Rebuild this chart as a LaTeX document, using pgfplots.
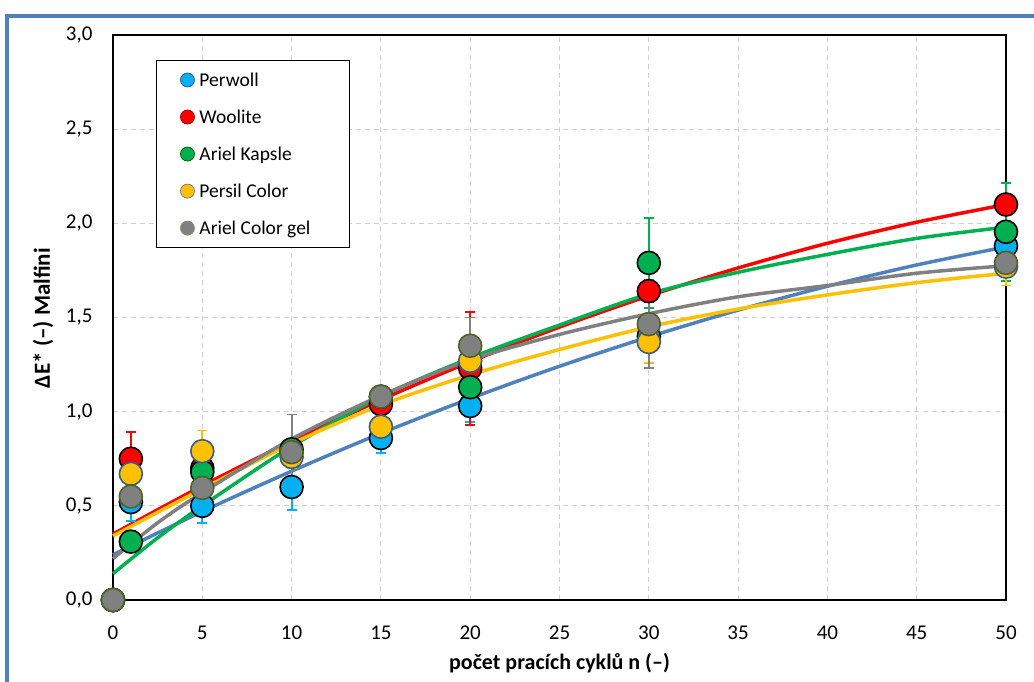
\documentclass[border=0pt]{standalone}
\usepackage{fontspec}
\setmainfont{Carlito}
\usepackage{pgfplots}
\pgfplotsset{compat=1.18}
\usepackage{pgfplotstable}

\definecolor{cBlue}{HTML}{00B0F0}
\definecolor{cRed}{HTML}{FF0000}
\definecolor{cGreen}{HTML}{00B050}
\definecolor{cYellow}{HTML}{FFC000}
\definecolor{cGray}{HTML}{808080}
\definecolor{lBlue}{HTML}{4F81BD}
\definecolor{frameBlue}{HTML}{4F81BD}
\definecolor{gridc}{HTML}{CFCFCF}
\definecolor{olive}{HTML}{4F6228}
\definecolor{darkbl}{HTML}{385D8A}

\pgfplotstableread{
x y e
0 0 0
1 0.52 0.10
5 0.50 0.09
10 0.60 0.12
15 0.86 0.08
20 1.03 0.085
30 1.40 0.05
50 1.88 0.05
}\perwoll
\pgfplotstableread{
x y e
0 0 0
1 0.75 0.14
5 0.70 0.08
10 0.79 0.05
15 1.04 0.06
20 1.23 0.30
30 1.64 0.06
50 2.10 0.05
}\woolite
\pgfplotstableread{
x y e
0 0 0
1 0.31 0.04
5 0.68 0.05
10 0.80 0.05
15 1.08 0.05
20 1.13 0.10
30 1.79 0.24
50 1.955 0.26
}\kapsle
\pgfplotstableread{
x y e
0 0 0
1 0.67 0.06
5 0.79 0.11
10 0.76 0.06
15 0.92 0.06
20 1.27 0.08
30 1.37 0.11
50 1.77 0.10
}\persil
\pgfplotstableread{
x y e
0 0 0
1 0.55 0.05
5 0.595 0.05
10 0.785 0.20
15 1.08 0.05
20 1.35 0.15
30 1.465 0.235
50 1.79 0.05
}\colorgel

\begin{document}
\begin{tikzpicture}
\begin{axis}[
  scale only axis,
  width=893pt, height=565pt,
  xmin=0, xmax=50, ymin=0, ymax=3,
  xtick={0,5,...,50}, ytick={0,0.5,...,3},
  clip=false,
  axis line style={black, line width=2.6pt},
  major tick length=0pt,
  grid=major,
  major grid style={gridc, line width=0.9pt, dash pattern=on 5pt off 4pt},
  tick label style={font=\fontsize{21}{25}\selectfont},
  xticklabel style={yshift=-22pt},
  yticklabel style={xshift=-17pt},
  /pgf/number format/.cd, use comma, fixed, fixed zerofill, precision=1, assume math mode=true,
  /pgfplots/.cd,
  xticklabel={\pgfmathprintnumber[fixed, precision=0, fixed zerofill=false]{\tick}},
  every axis x label/.style={at={(axis description cs:0.5,-0.1115)}, anchor=center},
  every axis y label/.style={at={(axis description cs:-0.0784,0.499)}, anchor=center, rotate=90},
  xlabel={\fontsize{22}{26}\selectfont\bfseries počet pracích cyklů n (–)},
  ylabel={\fontsize{23}{27}\selectfont\bfseries ΔE* (–) Malfini},
  legend style={at={(axis description cs:0.048,0.956)}, anchor=north west,
    draw=black, line width=1.2pt, font=\fontsize{19.5}{23}\selectfont,
    row sep=18pt, inner xsep=24pt, inner ysep=10pt,
    /tikz/every odd column/.append style={column sep=3pt}},
  legend cell align=left,
]
% trend lines
\addplot[lBlue, line width=3.5pt, smooth, forget plot] coordinates {(0,0.24) (5,0.470) (10,0.684) (15,0.885) (20,1.07) (25,1.241) (30,1.397) (35,1.539) (40,1.666) (45,1.779) (50,1.875)};
\addplot[cRed, line width=3.5pt, smooth, forget plot] coordinates {(0,0.35) (5,0.606) (10,0.843) (15,1.063) (20,1.265) (25,1.449) (30,1.615) (35,1.763) (40,1.894) (45,2.006) (50,2.10)};
\addplot[cGreen, line width=3.5pt, smooth, forget plot] coordinates {(0,0.14) (2.5,0.33) (5,0.50) (10,0.815) (15,1.08) (20,1.285) (25,1.46) (30,1.625) (35,1.74) (40,1.835) (45,1.92) (50,1.98)};
\addplot[cYellow, line width=3.5pt, smooth, forget plot] coordinates {(0,0.34) (5,0.59) (10,0.83) (15,1.035) (20,1.195) (25,1.33) (30,1.45) (35,1.545) (40,1.62) (45,1.685) (50,1.735)};
\addplot[cGray, line width=3.5pt, smooth, forget plot] coordinates {(0,0.22) (2.5,0.41) (5,0.57) (10,0.855) (15,1.085) (20,1.275) (25,1.41) (30,1.52) (35,1.61) (40,1.67) (45,1.735) (50,1.775)};
% error bars
\addplot[draw=none, forget plot, error bars/.cd, y dir=both, y explicit, error bar style={cBlue, line width=1.8pt}, error mark options={rotate=90, cBlue, line width=1.8pt, mark size=5pt}] table[x=x, y=y, y error=e]{\perwoll};
\addplot[draw=none, forget plot, error bars/.cd, y dir=both, y explicit, error bar style={cRed, line width=1.8pt}, error mark options={rotate=90, cRed, line width=1.8pt, mark size=5pt}] table[x=x, y=y, y error=e]{\woolite};
\addplot[draw=none, forget plot, error bars/.cd, y dir=both, y explicit, error bar style={cGreen, line width=1.8pt}, error mark options={rotate=90, cGreen, line width=1.8pt, mark size=5pt}] table[x=x, y=y, y error=e]{\kapsle};
\addplot[draw=none, forget plot, error bars/.cd, y dir=both, y explicit, error bar style={cYellow, line width=1.8pt}, error mark options={rotate=90, cYellow, line width=1.8pt, mark size=5pt}] table[x=x, y=y, y error=e]{\persil};
\addplot[draw=none, forget plot, error bars/.cd, y dir=both, y explicit, error bar style={cGray, line width=1.8pt}, error mark options={rotate=90, cGray, line width=1.8pt, mark size=5pt}] table[x=x, y=y, y error=e]{\colorgel};
% markers
\addplot[only marks, mark=*, mark size=11.5pt, mark options={fill=cBlue, draw=black, line width=1.6pt}, forget plot] table[x=x, y=y]{\perwoll};
\addplot[only marks, mark=*, mark size=11.5pt, mark options={fill=cRed, draw=black, line width=1.6pt}, forget plot] table[x=x, y=y]{\woolite};
\addplot[only marks, mark=*, mark size=11.5pt, mark options={fill=cGreen, draw=black, line width=1.6pt}, forget plot] table[x=x, y=y]{\kapsle};
\addplot[only marks, mark=*, mark size=11.5pt, mark options={fill=cYellow, draw=darkbl, line width=1.6pt}, forget plot] table[x=x, y=y]{\persil};
\addplot[only marks, mark=*, mark size=11.5pt, mark options={fill=cGray, draw=olive, line width=1.6pt}, forget plot] table[x=x, y=y]{\colorgel};
% legend
\addlegendimage{only marks, mark=*, mark size=7pt, mark options={fill=cBlue, draw=darkbl, line width=0.8pt}}
\addlegendentry{Perwoll}
\addlegendimage{only marks, mark=*, mark size=7pt, mark options={fill=cRed, draw=red!60!black, line width=0.8pt}}
\addlegendentry{Woolite}
\addlegendimage{only marks, mark=*, mark size=7pt, mark options={fill=cGreen, draw=green!40!black, line width=0.8pt}}
\addlegendentry{Ariel Kapsle}
\addlegendimage{only marks, mark=*, mark size=7pt, mark options={fill=cYellow, draw=gray, line width=0.8pt}}
\addlegendentry{Persil Color}
\addlegendimage{only marks, mark=*, mark size=7pt, mark options={fill=cGray, draw=olive!70, line width=0.8pt}}
\addlegendentry{Ariel Color gel\hspace*{13pt}}
\end{axis}
\draw[frameBlue, line width=3.5pt] (-106pt,-100pt) -- (-106pt,584pt) -- (940pt,584pt);
\pgfresetboundingbox
\path (-113pt,-81pt) rectangle (921pt,600pt);
\end{tikzpicture}
\end{document}
